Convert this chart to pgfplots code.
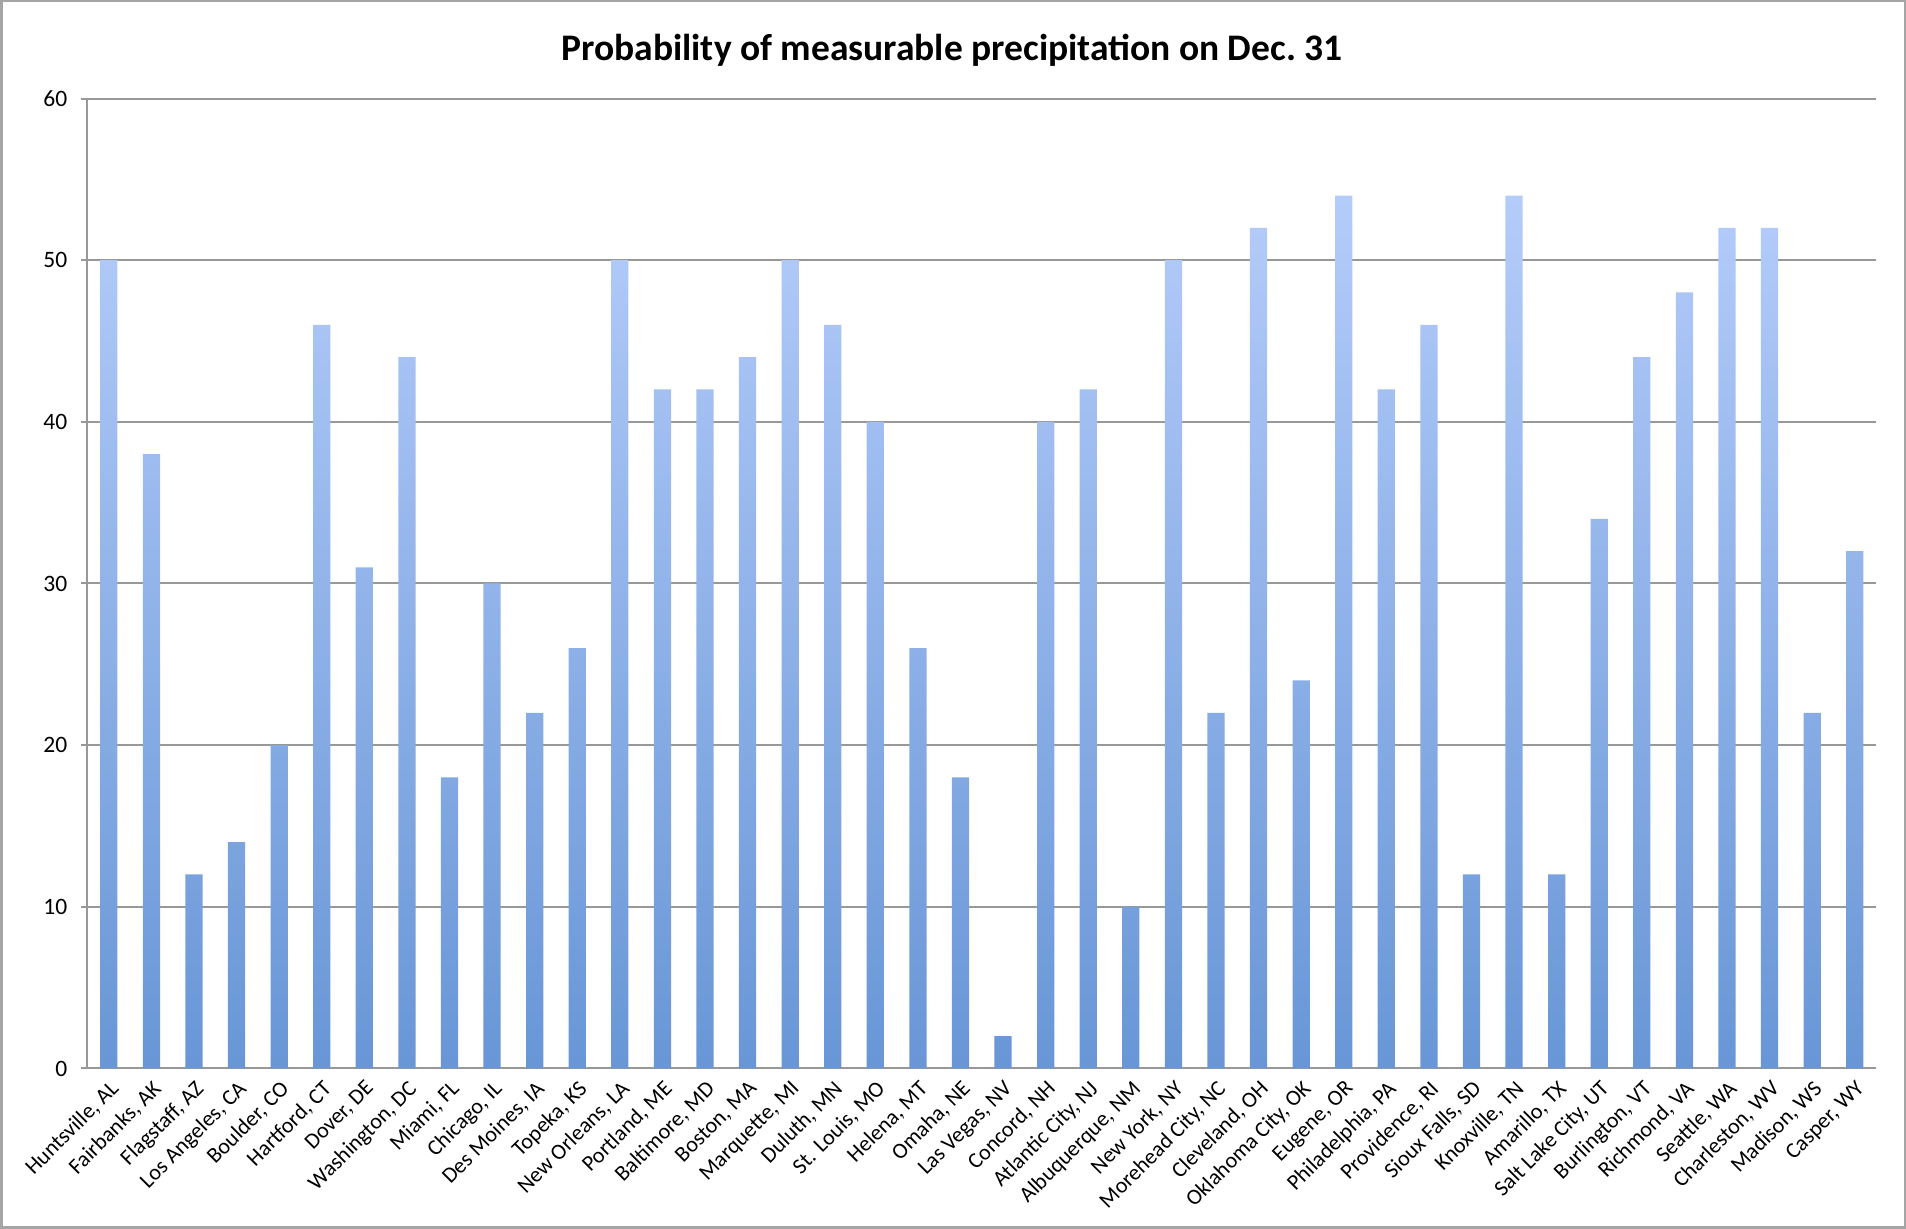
\documentclass[border=0pt]{standalone}
\usepackage{pgfplots}
\pgfplotsset{compat=1.18}
\usepackage{fontspec}
\setmainfont{Carlito}

\definecolor{gridgray}{RGB}{152,152,152}
\definecolor{framegray}{RGB}{165,165,165}
\definecolor{bartop}{RGB}{180,204,250}
\definecolor{barbottom}{RGB}{104,150,214}

\begin{document}
\begin{tikzpicture}[x=1pt,y=1pt]
\useasboundingbox (0,0) rectangle (762.4,491.6);
\draw[framegray, line width=1pt] (0.5,0.5) rectangle (761.9,491.1);
\node[font=\bfseries\fontsize{15}{18}\selectfont, anchor=base] at (380.8,467.2)
  {Probability of measurable precipitation on Dec.~31};
\begin{axis}[
  at={(35pt,64.2pt)}, anchor=south west,
  scale only axis, width=715.4pt, height=388pt,
  xmin=0.5, xmax=42.5, ymin=0, ymax=60,
  ybar, bar width=6.9pt,
  axis x line*=bottom, axis y line*=left,
  axis line style={gridgray, line width=0.8pt},
  ymajorgrids, grid style={gridgray, line width=0.8pt},
  ytick={0,10,...,60},
  tick align=outside,
  major tick length=2.6pt, minor tick length=2.8pt,
  tick style={gridgray, line width=0.8pt},
  xtick={1,...,42},
  x tick style={draw=none},
  minor xtick={0.5,1.5,...,42.5},
  minor x tick style={gridgray, line width=0.8pt},
  xticklabels={{Huntsville, AL},{Fairbanks, AK},{Flagstaff, AZ},{Los Angeles, CA},
    {Boulder, CO},{Hartford, CT},{Dover, DE},{Washington, DC},{Miami, FL},
    {Chicago, IL},{Des Moines, IA},{Topeka, KS},{New Orleans, LA},{Portland, ME},
    {Baltimore, MD},{Boston, MA},{Marquette, MI},{Duluth, MN},{St. Louis, MO},
    {Helena, MT},{Omaha, NE},{Las Vegas, NV},{Concord, NH},{Atlantic City, NJ},
    {Albuquerque, NM},{New York, NY},{Morehead City, NC},{Cleveland, OH},
    {Oklahoma City, OK},{Eugene, OR},{Philadelphia, PA},{Providence, RI},
    {Sioux Falls, SD},{Knoxville, TN},{Amarillo, TX},{Salt Lake City, UT},
    {Burlington, VT},{Richmond, VA},{Seattle, WA},{Charleston, WV},
    {Madison, WS},{Casper, WY}},
  xticklabel style={rotate=45, anchor=north east, inner sep=1pt,
    font=\fontsize{8.85}{10.5}\selectfont},
  yticklabel style={xshift=-2pt, font=\fontsize{9.4}{11}\selectfont},
  /pgf/number format/assume math mode=true,
  clip=false,
]
\addplot[draw=none, top color=bartop, bottom color=barbottom] coordinates {
  (1,50) (2,38) (3,12) (4,14) (5,20) (6,46) (7,31) (8,44) (9,18) (10,30)
  (11,22) (12,26) (13,50) (14,42) (15,42) (16,44) (17,50) (18,46) (19,40)
  (20,26) (21,18) (22,2) (23,40) (24,42) (25,10) (26,50) (27,22) (28,52)
  (29,24) (30,54) (31,42) (32,46) (33,12) (34,54) (35,12) (36,34) (37,44)
  (38,48) (39,52) (40,52) (41,22) (42,32)
};
\end{axis}
\end{tikzpicture}
\end{document}
